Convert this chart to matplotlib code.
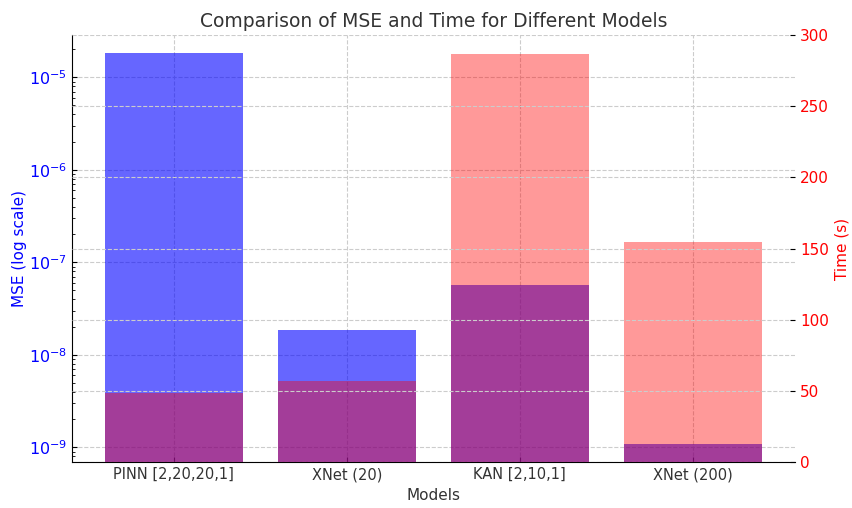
import matplotlib.pyplot as plt
import numpy as np

models = ['PINN [2,20,20,1]', 'XNet (20)', 'KAN [2,10,1]', 'XNet (200)']
mse = [1.82e-5, 1.86e-8, 5.71e-8, 1.09e-9]
time_s = [48.9, 57.1, 286.5, 154.5]

fig, ax1 = plt.subplots(figsize=(8.53, 5.08), dpi=100)
fig.subplots_adjust(left=0.084, right=0.932, top=0.931, bottom=0.09)

x = np.arange(len(models))
ax1.bar(x, mse, width=0.8, color='blue', alpha=0.6)
ax1.set_yscale('log')
ax1.set_ylim(10**-9.162, 10**-4.543)
ax1.set_ylabel('MSE (log scale)', color='blue', fontsize=11, labelpad=1)
ax1.tick_params(axis='y', which='both', direction='in', labelcolor='blue', labelsize=11.5)
ax1.set_xticks(x)
ax1.set_xticklabels(models, fontsize=10.5)
ax1.tick_params(axis='x', direction='in', colors='#333333')
ax1.set_xlabel('Models', fontsize=11, color='#333333')
ax1.grid(True, linestyle='--', color='#cccccc', linewidth=0.8)
ax1.set_axisbelow(True)

ax2 = ax1.twinx()
ax2.bar(x, time_s, width=0.8, color='red', alpha=0.4)
ax2.set_ylim(0, 300)
ax2.set_ylabel('Time (s)', color='red', fontsize=11)
ax2.tick_params(axis='y', direction='in', labelcolor='red', labelsize=11)
ax2.grid(True, axis='y', linestyle='--', color='#cccccc', linewidth=0.8)

for ax in (ax1, ax2):
    ax.spines['top'].set_visible(False)
    ax.spines['right'].set_visible(False)
ax2.spines['left'].set_visible(False)
ax2.spines['bottom'].set_visible(False)

ax1.set_title('Comparison of MSE and Time for Different Models', fontsize=13.5, color='#333333')

fig.savefig('out.png')
